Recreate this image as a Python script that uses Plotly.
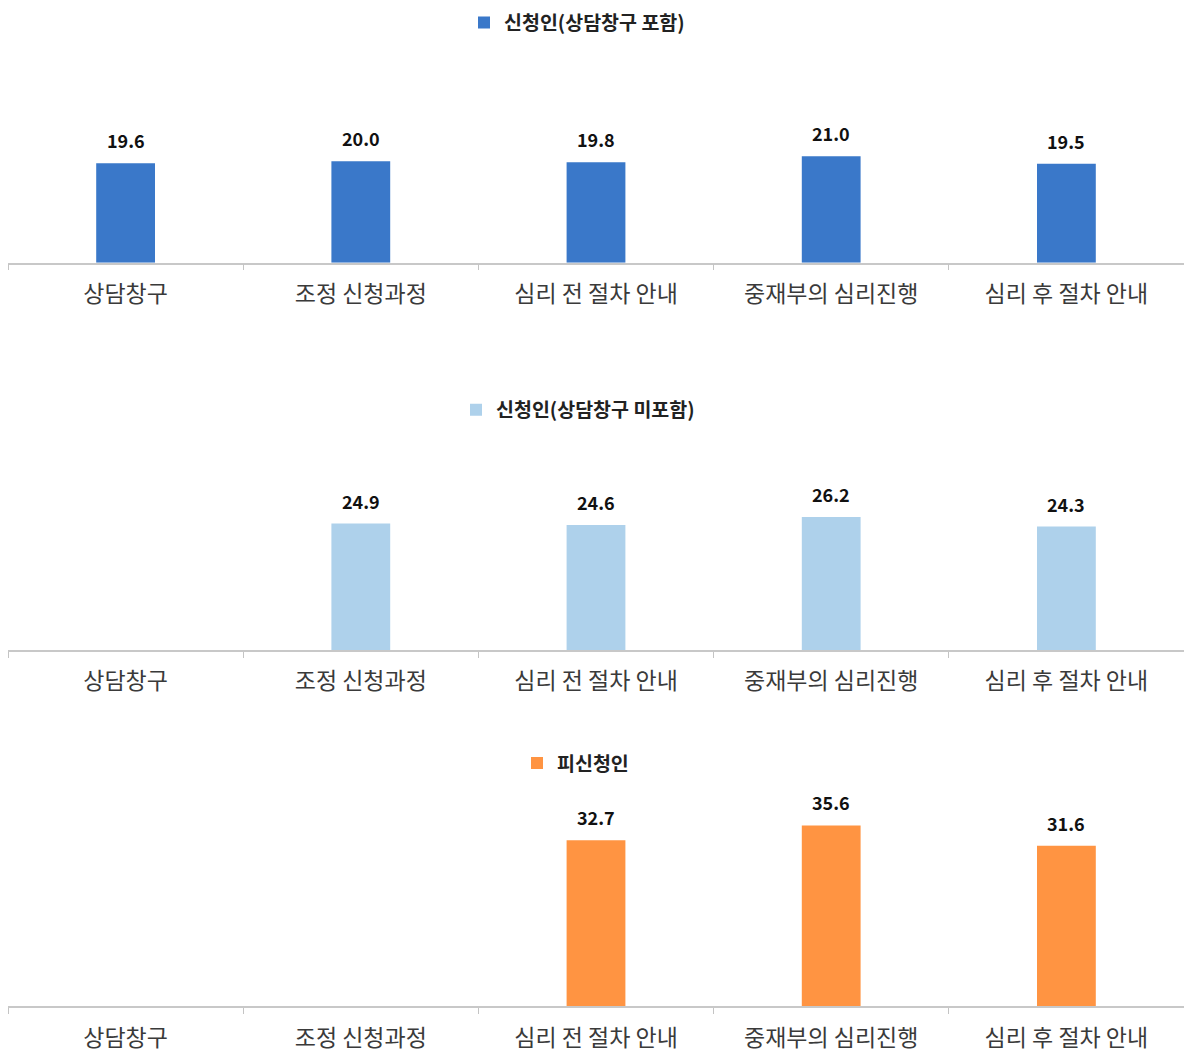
import plotly.graph_objects as go

categories = ["상담창구", "조정 신청과정", "심리 전 절차 안내", "중재부의 심리진행", "심리 후 절차 안내"]

series_names = ["신청인(상담창구 포함)", "신청인(상담창구 미포함)", "피신청인"]
values_incl = [19.6, 20.0, 19.8, 21.0, 19.5]
values_excl = [None, 24.9, 24.6, 26.2, 24.3]
values_resp = [None, None, 32.7, 35.6, 31.6]
colors = ["#3A78C9", "#AED1EB", "#FF9442"]

FONT = "Noto Sans CJK KR"
W, H = 1184, 1053
L = 8  # left margin in pixels

# vertical placement of each panel (pixels from the top): baseline and top
panels = [
    dict(vals=values_incl, base=264, top=60, legend_y=23, legend_x=478),
    dict(vals=values_excl, base=653, top=449, legend_y=412, legend_x=470),
    dict(vals=values_resp, base=1011, top=807, legend_y=767, legend_x=531),
]
Y_MAX = 40

fig = go.Figure()
layout = dict(
    width=W, height=H,
    margin=dict(l=L, r=0, t=0, b=0),
    paper_bgcolor="white", plot_bgcolor="white",
    font=dict(family=FONT, color="#333333"),
    bargap=0.75,
    showlegend=True,
    annotations=[],
)

for i, (p, name, color) in enumerate(zip(panels, series_names, colors)):
    n = "" if i == 0 else str(i + 1)
    fig.add_trace(go.Bar(
        x=categories, y=p["vals"], name=name,
        marker=dict(color=color, line=dict(width=0)),
        xaxis="x" + n, yaxis="y" + n,
        legend="legend" + n, showlegend=True,
        hoverinfo="x+y",
    ))
    layout["xaxis" + n] = dict(
        domain=[0, 1], anchor="y" + n,
        categoryorder="array", categoryarray=categories,
        showline=True, linecolor="#c8c8c8", linewidth=1.5,
        ticks="outside", tickson="boundaries", ticklen=6, tickcolor="#c4c4c4",
        ticklabelstandoff=10,
        tickfont=dict(family=FONT, size=23, color="#3a3a3a"),
        showgrid=False, zeroline=False,
    )
    layout["yaxis" + n] = dict(
        domain=[(H - p["base"]) / H, (H - p["top"]) / H], anchor="x" + n,
        range=[0, Y_MAX], visible=False, showgrid=False, zeroline=False,
    )
    layout["legend" + n] = dict(
        x=(p["legend_x"] - L - 14) / (W - L), xanchor="left",
        y=(H - p["legend_y"]) / H, yanchor="middle",
        orientation="h", bgcolor="rgba(0,0,0,0)",
        font=dict(family=FONT, size=19.5, color="#222222", weight="bold"),
        itemwidth=30,
    )
    for c, v in zip(categories, p["vals"]):
        if v is None:
            continue
        layout["annotations"].append(dict(
            x=c, y=v, xref="x" + n, yref="y" + n,
            text=f"{v:.1f}", showarrow=False,
            yanchor="middle", yshift=23,
            font=dict(family=FONT, size=18, color="#111111", weight="bold"),
        ))

fig.update_layout(**layout)
fig.write_html("out.html")
